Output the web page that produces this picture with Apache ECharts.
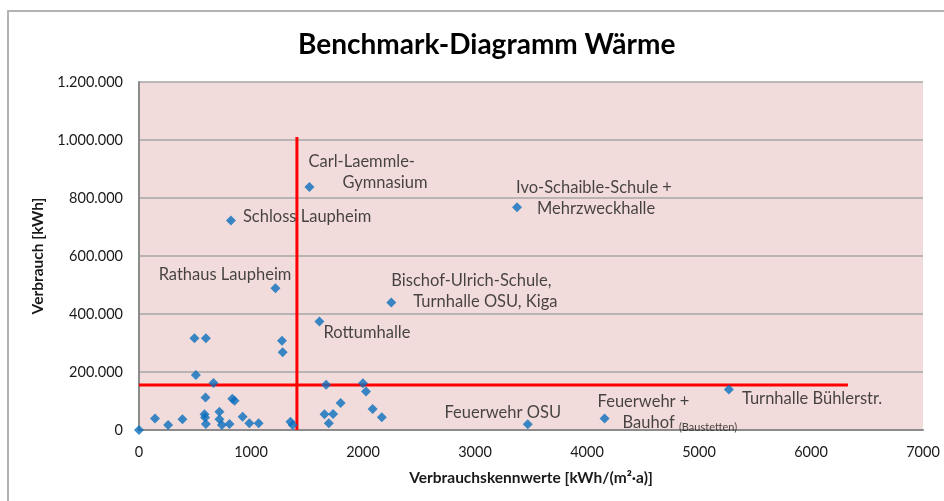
<!DOCTYPE html>
<html>
<head>
<meta charset="utf-8">
<script src="https://cdn.jsdelivr.net/npm/echarts@6/dist/echarts.min.js"></script>
<style>
  html, body { margin: 0; padding: 0; background: #fff; }
  #chart { width: 944px; height: 501px; }
</style>
</head>
<body>
<div id="chart"></div>
<script>
// Verbrauchskennwerte [kWh/(m²·a)] and Verbrauch [kWh] per building
const pointNames = [
  'Schloss Laupheim', 'Carl-Laemmle-Gymnasium', 'Rathaus Laupheim',
  'Bischof-Ulrich-Schule, Turnhalle OSU, Kiga', 'Ivo-Schaible-Schule + Mehrzweckhalle',
  'Rottumhalle', 'Turnhalle Bühlerstr.', 'Feuerwehr + Bauhof (Baustetten)', 'Feuerwehr OSU',
  '', '', '', '', '', '', '', '', '', '', '', '', '', '', '', '', '', '', '', '', '',
  '', '', '', '', '', '', '', '', '', '', '', '', ''
]
const kennwerte = [
  821, 1522, 1218, 2253, 3375, 1611, 5267, 4157, 3471,
  0, 143, 260, 388, 495, 597, 1277, 1283, 508, 665, 594, 833, 853, 585, 590, 597,
  718, 718, 740, 808, 925, 985, 1068, 1352, 1372,
  1671, 2000, 2027, 1800, 1656, 1733, 1695, 2086, 2168
]
const verbrauch = [
  722000, 838000, 489000, 440000, 768000, 374000, 140000, 40000, 20000,
  0, 40000, 17000, 37000, 316000, 316000, 308000, 268000, 190000, 162000, 112000, 108000, 101000, 54000, 43000, 21000,
  63000, 37000, 17000, 21000, 46000, 23000, 23000, 28600, 17000,
  156000, 161000, 133000, 93000, 54000, 55000, 23000, 72000, 44000
]
// red benchmark lines
const benchVX = [1410, 1410]
const benchVY = [0, 1010000]
const benchHX = [0, 6330]
const benchHY = [155000, 155000]
const xTicks = [0, 7000, 1000]
const yTicks = [0, 1200000, 200000]

const labelFont = 'Lato, "Open Sans", sans-serif'
const fs = 16.5

// label placement relative to the point (px)
const labelPlace = {
  'Schloss Laupheim': { dx: 12, dy: -4, align: 'left', text: 'Schloss Laupheim' },
  'Carl-Laemmle-Gymnasium': { dx: -1, dy: -15, align: 'left', text: '{l|Carl-Laemmle-}\n{l2|Gymnasium}', pad: 34 },
  'Rathaus Laupheim': { dx: 16, dy: -14, align: 'right', text: 'Rathaus Laupheim' },
  'Bischof-Ulrich-Schule, Turnhalle OSU, Kiga': { dx: 0, dy: -11, align: 'left', text: '{l|Bischof-Ulrich-Schule,}\n{l2|Turnhalle OSU, Kiga}', pad: 22 },
  'Ivo-Schaible-Schule + Mehrzweckhalle': { dx: -1, dy: -9, align: 'left', text: '{l|Ivo-Schaible-Schule +}\n{l2|Mehrzweckhalle}', pad: 21 },
  'Rottumhalle': { dx: 4, dy: 11, align: 'left', text: 'Rottumhalle' },
  'Turnhalle Bühlerstr.': { dx: 13, dy: 9, align: 'left', text: 'Turnhalle Bühlerstr.' },
  'Feuerwehr + Bauhof (Baustetten)': { dx: -7, dy: -6, align: 'left', text: '{l|Feuerwehr +}\n{l2|Bauhof }{s|(Baustetten)}', pad: 25 },
  'Feuerwehr OSU': { dx: -25, dy: -12, align: 'center', text: 'Feuerwehr OSU' }
}

const points = kennwerte.map((x, i) => {
  const item = { value: [x, verbrauch[i]], name: pointNames[i] }
  const p = labelPlace[pointNames[i]]
  if (p) {
    item.label = {
      show: true,
      position: [5 + p.dx, 5 + p.dy],
      align: p.align,
      verticalAlign: 'middle',
      formatter: p.text,
      color: '#1a1a1a',
      fontFamily: labelFont,
      fontSize: fs,
      lineHeight: 21,
      rich: {
        l: { fontSize: fs, fontFamily: labelFont, color: '#1a1a1a', lineHeight: 21 },
        l2: { fontSize: fs, fontFamily: labelFont, color: '#1a1a1a', lineHeight: 21, padding: [0, 0, 0, p.pad || 0] },
        s: { fontSize: 11, fontFamily: labelFont, color: '#1a1a1a', lineHeight: 21, verticalAlign: 'bottom' }
      }
    }
  }
  return item
})

const fmtDe = (v) => String(v).replace(/\B(?=(\d{3})+(?!\d))/g, '.')

const chart = echarts.init(document.getElementById('chart'))
const option = {
  animation: false,
  backgroundColor: '#fff',
  title: {
    text: 'Benchmark-Diagramm Wärme',
    left: 293,
    top: 26,
    textStyle: { fontFamily: labelFont, fontWeight: 'bold', fontSize: 28, color: '#000' }
  },
  graphic: [
    {
      type: 'rect',
      shape: { x: 8, y: 11, width: 1000, height: 600 },
      style: { fill: 'none', stroke: '#b3b3b3', lineWidth: 2 },
      silent: true
    }
  ],
  grid: {
    left: 139,
    right: 21,
    top: 82,
    bottom: 71,
    show: true,
    backgroundColor: '#f2dcdb',
    borderWidth: 0
  },
  xAxis: {
    type: 'value',
    min: xTicks[0],
    max: xTicks[1],
    interval: xTicks[2],
    name: 'Verbrauchskennwerte [kWh/(m²·a)]',
    nameLocation: 'middle',
    nameGap: 40,
    nameTextStyle: { fontFamily: labelFont, fontWeight: 'bold', fontSize: 15.5, color: '#1a1a1a' },
    axisLine: { show: true, lineStyle: { color: '#8c8c8c', width: 2 } },
    axisTick: { show: false },
    axisLabel: { margin: 15, fontFamily: labelFont, fontSize: 14.5, color: '#1a1a1a', formatter: (v) => String(v) },
    splitLine: { show: false }
  },
  yAxis: {
    type: 'value',
    min: yTicks[0],
    max: yTicks[1],
    interval: yTicks[2],
    name: 'Verbrauch [kWh]',
    nameLocation: 'middle',
    nameGap: 89,
    nameTextStyle: { fontFamily: labelFont, fontWeight: 'bold', fontSize: 15.5, color: '#1a1a1a' },
    axisLine: { show: true, lineStyle: { color: '#8c8c8c', width: 2 } },
    axisTick: { show: false },
    axisLabel: { margin: 16, fontFamily: labelFont, fontSize: 14.5, color: '#1a1a1a', formatter: fmtDe },
    splitLine: { show: true, lineStyle: { color: '#a6a6a6', width: 1.5 } }
  },
  series: [
    {
      name: 'Benchmark senkrecht',
      type: 'line',
      data: benchVX.map((x, i) => [x, benchVY[i]]),
      symbol: 'none',
      lineStyle: { color: '#ff0000', width: 3 },
      z: 3
    },
    {
      name: 'Benchmark waagerecht',
      type: 'line',
      data: benchHX.map((x, i) => [x, benchHY[i]]),
      symbol: 'none',
      lineStyle: { color: '#ff0000', width: 3 },
      z: 3
    },
    {
      name: 'Gebäude',
      type: 'scatter',
      symbol: 'diamond',
      symbolSize: 10,
      itemStyle: { color: '#0a6ebd' },
      data: points,
      z: 5
    }
  ]
}
chart.setOption(option)
</script>
</body>
</html>
